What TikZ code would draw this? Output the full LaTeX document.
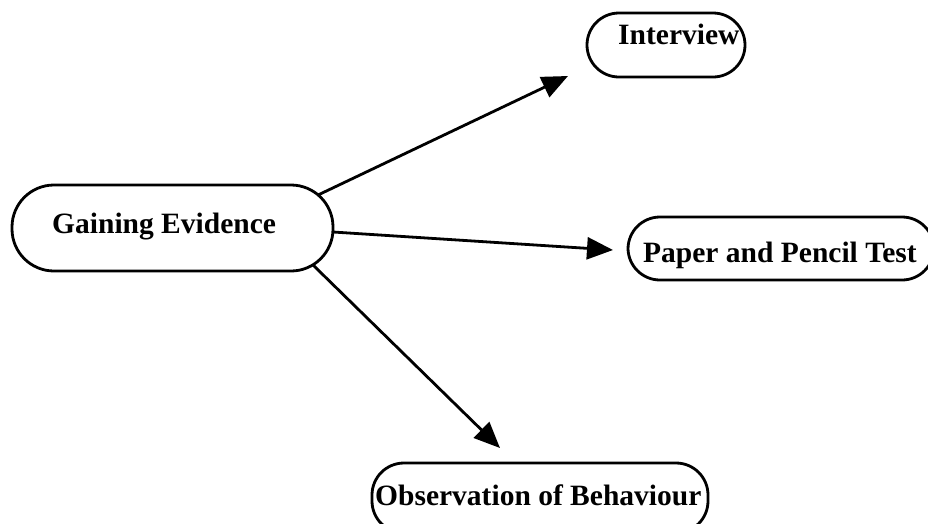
\documentclass[tikz,border=0pt]{standalone}
\usepackage{fontspec}
\setmainfont{Liberation Serif}
\usetikzlibrary{arrows.meta}
\begin{document}
\begin{tikzpicture}[x=1pt,y=-1pt,
  box/.style={draw, line width=2.8pt, rounded corners=32pt, inner sep=0pt},
  lbl/.style={anchor=base west, inner sep=0pt, font=\fontsize{29.5}{34}\selectfont\bfseries},
  conn/.style={line width=2.8pt, -{Triangle[length=26pt,width=22pt]}}]
\useasboundingbox (0,0) rectangle (928,523);
\node[box, minimum width=321pt, minimum height=86pt, rounded corners=42pt] (g) at (172.5,228) {};
\node[box, minimum width=158pt, minimum height=64pt] (i) at (666,45) {};
\node[box, minimum width=306pt, minimum height=63pt] (p) at (781,248.5) {};
\node[box, minimum width=336pt, minimum height=70pt] (o) at (540,498) {};
\node[lbl] (gt) at (52,233) {Gaining Evidence};
\node[lbl] (it) at (618,44) {Interview};
\node[lbl] (pt) at (643,262) {Paper and Pencil Test};
\node[lbl] (ot) at (375,505) {Observation of Behaviour};
\coordinate (s1) at (318,195);
\coordinate (s2) at (333,232);
\coordinate (s3) at (313,265);
\coordinate (e1) at (568,76);
\coordinate (e2) at (613,250);
\coordinate (e3) at (500,448);
\draw[conn] (s1) -- (e1);
\draw[conn] (s2) -- (e2);
\draw[conn] (s3) -- (e3);
\end{tikzpicture}
\end{document}
